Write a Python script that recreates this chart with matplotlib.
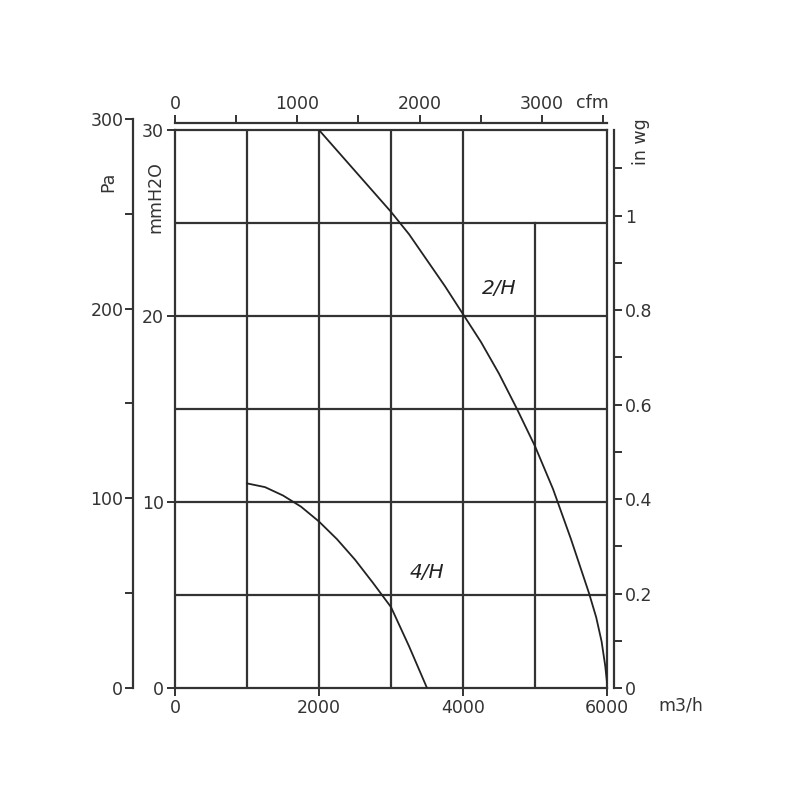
import matplotlib
matplotlib.use("Agg")
import matplotlib.pyplot as plt
from matplotlib.transforms import blended_transform_factory

# fan curves, flow in m3/h, pressure in mmH2O
flow_2h = [2000, 2250, 2500, 2750, 3000, 3250, 3500, 3750, 4000, 4250, 4500, 4750,
           5000, 5250, 5500, 5750, 5850, 5925, 5975, 6000]
press_2h = [30.0, 28.9, 27.8, 26.7, 25.6, 24.4, 23.0, 21.6, 20.1, 18.6, 16.9, 15.0,
            13.0, 10.7, 8.0, 5.1, 3.8, 2.5, 1.2, 0.3]
flow_4h = [1000, 1250, 1500, 1750, 2000, 2250, 2500, 2750, 3000, 3250, 3500]
press_4h = [11.0, 10.8, 10.35, 9.75, 8.95, 8.0, 6.9, 5.65, 4.35, 2.25, 0.0]

x_ticks = [0, 2000, 4000, 6000]
x_tick_labels = ["0", "2000", "4000", "6000"]
y_ticks = [0, 10, 20, 30]
pa_ticks = [0, 50, 100, 150, 200, 250, 300]
pa_tick_labels = ["0", "", "100", "", "200", "", "300"]
inwg_ticks = [0, 0.1, 0.2, 0.3, 0.4, 0.5, 0.6, 0.7, 0.8, 0.9, 1.0, 1.1]
inwg_tick_labels = ["0", "", "0.2", "", "0.4", "", "0.6", "", "0.8", "", "1", ""]
cfm_ticks = [0, 500, 1000, 1500, 2000, 2500, 3000, 3500]
cfm_tick_labels = ["0", "", "1000", "", "2000", "", "3000", ""]

PA_PER_MM = 9.80665
MM_PER_INCH = 25.4
CFM_PER_M3H = 0.588578

c = "#333333"
fs = 12.5
plt.rcParams["font.family"] = ["DejaVu Sans"]

fig = plt.figure(figsize=(8, 8), dpi=100)
left, bottom, width, height = 175 / 800, 112 / 800, 432 / 800, 558 / 800
ax = fig.add_axes([left, bottom, width, height])
ax.set_xlim(0, 6000)
ax.set_ylim(0, 30)

for s in ax.spines.values():
    s.set_color(c)
    s.set_linewidth(1.6)

# grid
for xv in [1000, 2000, 3000, 4000]:
    ax.axvline(xv, color=c, lw=1.6, zorder=1)
ax.axvline(5000, ymax=25 / 30, color=c, lw=1.6, zorder=1)
for yv in [5, 10, 15, 20, 25]:
    ax.axhline(yv, color=c, lw=1.6, zorder=1)

ax.plot(flow_2h, press_2h, color="#222222", lw=1.3, zorder=3)
ax.plot(flow_4h, press_4h, color="#222222", lw=1.3, zorder=3)
ax.text(4500, 21.5, "2/H", fontsize=14.5, style="italic", color="#222222",
        ha="center", va="center")
ax.text(3500, 6.2, "4/H", fontsize=14.5, style="italic", color="#222222",
        ha="center", va="center")

ax.set_xticks(x_ticks)
ax.set_xticklabels(x_tick_labels)
ax.set_yticks(y_ticks)
ax.set_yticklabels([str(v) for v in y_ticks])
ax.tick_params(axis="both", direction="out", length=6, width=1.4, color=c,
               labelcolor=c, labelsize=fs, pad=2)
ax.text(1.17, -0.032, "m3/h", transform=ax.transAxes, fontsize=fs, color=c,
        ha="center", va="center")
ax.text(-0.045, 0.88, "mmH2O", transform=ax.transAxes, rotation=90, fontsize=fs,
        color=c, ha="center", va="center")

# Pa axis on the far left
pa_height = height * (300 / PA_PER_MM) / 30
ax_pa = fig.add_axes([133 / 800, bottom, 0.0001, pa_height])
ax_pa.set_ylim(0, 300)
ax_pa.patch.set_visible(False)
for k in ["top", "right", "bottom"]:
    ax_pa.spines[k].set_visible(False)
ax_pa.spines["left"].set_color(c)
ax_pa.spines["left"].set_linewidth(1.6)
ax_pa.set_xticks([])
ax_pa.set_yticks(pa_ticks)
ax_pa.set_yticklabels(pa_tick_labels)
ax_pa.tick_params(axis="y", direction="out", length=6, width=1.4, color=c,
                  labelcolor=c, labelsize=fs, pad=1)
fig.text(108 / 800, 1 - 182 / 800, "Pa", rotation=90, fontsize=fs, color=c,
         ha="center", va="center")

# in wg axis on the right
ax_r = ax.twinx()
ax_r.set_ylim(0, 30 / MM_PER_INCH)
for k in ["top", "left", "bottom"]:
    ax_r.spines[k].set_visible(False)
ax_r.spines["right"].set_position(("outward", 5))
ax_r.spines["right"].set_color(c)
ax_r.spines["right"].set_linewidth(1.6)
ax_r.set_yticks(inwg_ticks)
ax_r.set_yticklabels(inwg_tick_labels)
ax_r.tick_params(axis="y", direction="out", length=6, width=1.4, color=c,
                 labelcolor=c, labelsize=fs, pad=2)
fig.text(641 / 800, 1 - 142 / 800, "in wg", rotation=90, fontsize=fs, color=c,
         ha="center", va="center")

# cfm axis on top
ax_t = ax.twiny()
ax_t.set_xlim(0, 6000 * CFM_PER_M3H)
for k in ["right", "left", "bottom"]:
    ax_t.spines[k].set_visible(False)
ax_t.spines["top"].set_position(("outward", 5))
ax_t.spines["top"].set_color(c)
ax_t.spines["top"].set_linewidth(1.6)
ax_t.set_xticks(cfm_ticks)
ax_t.set_xticklabels(cfm_tick_labels)
ax_t.tick_params(axis="x", direction="out", length=6, width=1.4, color=c,
                 labelcolor=c, labelsize=fs, pad=1)
tr = blended_transform_factory(ax_t.transData, fig.transFigure)
ax_t.text(3410, 1 - 103 / 800, "cfm", transform=tr, fontsize=fs, color=c,
          ha="center", va="center")

fig.savefig("out.png", dpi=100, facecolor="white")
